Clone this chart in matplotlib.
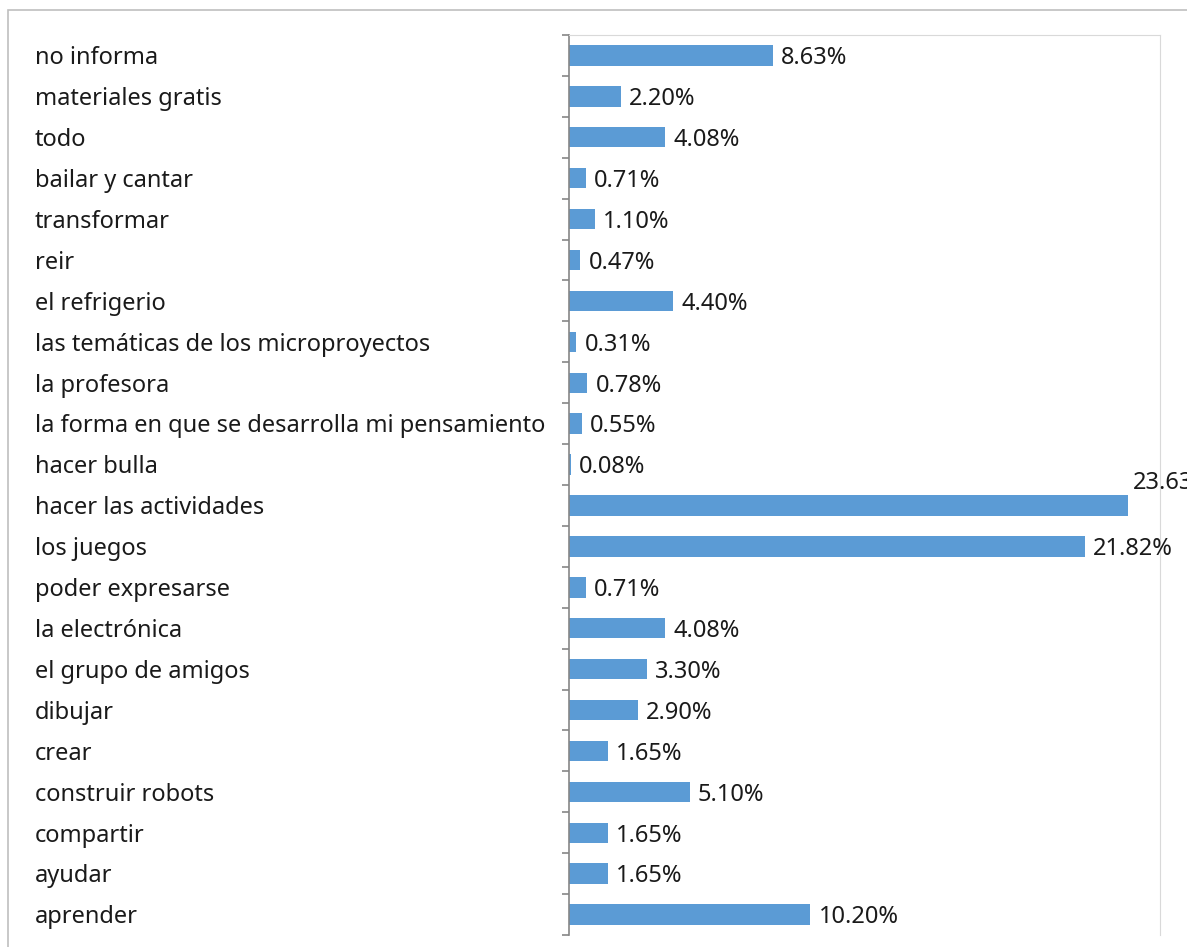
import matplotlib.pyplot as plt
import matplotlib.transforms as mtransforms
from matplotlib.patches import Rectangle

# categories, top to bottom as shown
labels = ['no informa', 'materiales gratis', 'todo', 'bailar y cantar', 'transformar',
          'reir', 'el refrigerio', 'las temáticas de los microproyectos', 'la profesora',
          'la forma en que se desarrolla mi pensamiento', 'hacer bulla',
          'hacer las actividades', 'los juegos', 'poder expresarse', 'la electrónica',
          'el grupo de amigos', 'dibujar', 'crear', 'construir robots', 'compartir',
          'ayudar', 'aprender']
values = [8.63, 2.20, 4.08, 0.71, 1.10, 0.47, 4.40, 0.31, 0.78, 0.55, 0.08,
          23.63, 21.82, 0.71, 4.08, 3.30, 2.90, 1.65, 5.10, 1.65, 1.65, 10.20]

plt.rcParams['font.family'] = ['Noto Sans', 'DejaVu Sans']
bar_color = '#5B9BD5'
text_color = '#1A1A1A'
fs = 17

fig = plt.figure(figsize=(11.87, 9.47), dpi=100)
ax = fig.add_axes([569/1187, 1 - 935/947, (1160 - 569)/1187, (935 - 35)/947])

# outer chart border
fig.patches.append(Rectangle((8/1187, -0.1), 1.2, 1.1 - 10/947, transform=fig.transFigure,
                             fill=False, edgecolor='#BFBFBF', linewidth=1.2))

n = len(labels)
ypos = list(range(n))
ax.barh(ypos, values, height=0.5, color=bar_color)
ax.set_xlim(0, 25)
ax.set_ylim(n - 0.5, -0.5)

for i, v in enumerate(values):
    txt = f'{v:.2f}%'
    if v > 23:
        # label pushed above the bar, runs off the chart edge like the original
        ax.annotate(txt, (v, i - 0.62), xytext=(4, -2), textcoords='offset points',
                    ha='left', va='center', fontsize=fs, color=text_color,
                    annotation_clip=False)
    else:
        ax.annotate(txt, (v, i), xytext=(6, -2), textcoords='offset points',
                    ha='left', va='center', fontsize=fs, color=text_color)

# category labels, left aligned
trans = mtransforms.blended_transform_factory(fig.transFigure, ax.transData)
for i, lab in enumerate(labels):
    ax.annotate(lab, (35/1187, i), xycoords=trans, xytext=(0, -2),
                textcoords='offset points', ha='left', va='center',
                fontsize=fs, color=text_color)

ax.set_yticks(ypos)
ax.set_yticklabels([])
ax.tick_params(axis='y', which='major', length=0)
ax.set_yticks([i - 0.5 for i in range(n + 1)], minor=True)
ax.tick_params(axis='y', which='minor', length=5, color='#868686', width=1.2)
ax.set_xticks([])

for side in ['top', 'right']:
    ax.spines[side].set_color('#D9D9D9')
ax.spines['bottom'].set_visible(False)
ax.spines['left'].set_color('#868686')
ax.spines['left'].set_linewidth(1.2)

fig.savefig('out.png', dpi=100)
